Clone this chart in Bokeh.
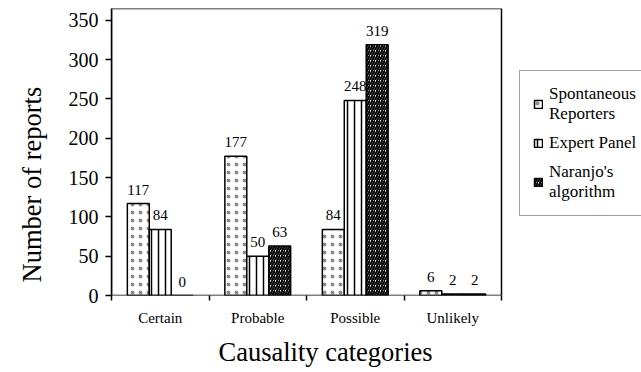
from bokeh.plotting import figure
from bokeh.models import (Range1d, FixedTicker, Legend, LegendItem, ColumnDataSource,
                          BoxAnnotation, Title)
from bokeh.embed import file_html
from bokeh.resources import INLINE
import numpy as np

cats = ["Certain", "Probable", "Possible", "Unlikely"]
spontaneous = [117, 177, 84, 6]
expert = [84, 50, 248, 2]
naranjo = [0, 63, 319, 2]
series_names = ["Spontaneous\nReporters", "Expert Panel", "Naranjo's\nalgorithm"]
y_ticks = [0, 50, 100, 150, 200, 250, 300, 350]
x_title = "Causality categories"
y_title = "Number of reports"

FONT = "Liberation Serif"
Y_MAX = 365
# the plotting frame also holds the legend; categories use the left 390 of its 530 px
X_END = len(cats) * 530 / 390

p = figure(width=641, height=372, output_backend="svg", toolbar_location=None,
           x_range=Range1d(0, X_END), y_range=Range1d(0, Y_MAX),
           min_border_left=111, min_border_right=0, min_border_top=8, min_border_bottom=76)

p.xgrid.visible = False
p.ygrid.visible = False
p.outline_line_color = None
p.background_fill_color = "white"
p.border_fill_color = "white"

# box around the category area (top/right border of the chart area)
p.add_layout(BoxAnnotation(left=0, right=len(cats), bottom=0, top=Y_MAX,
                           fill_alpha=0, line_color="black", line_alpha=1, line_width=1.5))

centers = np.arange(len(cats)) + 0.5
bw = 0.225
offsets = [-bw, 0.0, bw]
styles = [
    dict(hatch_pattern="dot", hatch_scale=8, hatch_weight=1, hatch_alpha=0.45),
    dict(hatch_pattern="vertical_line", hatch_scale=7, hatch_weight=1.5),
    dict(hatch_pattern="right_diagonal_line", hatch_scale=5, hatch_weight=2),
]
renderers = []
for vals, off, st in zip([spontaneous, expert, naranjo], offsets, styles):
    src = ColumnDataSource(dict(x=centers + off, top=vals, lab=[str(v) for v in vals]))
    r = p.vbar(x="x", top="top", width=bw, source=src, fill_color="white",
               line_color="black", line_width=1.5, hatch_color="black", **st)
    renderers.append(r)
    p.text(x="x", y="top", text="lab", source=src, text_align="center",
           text_baseline="alphabetic", y_offset=-14, text_font=FONT,
           text_font_size="15px", text_color="black")

# axes
p.xaxis.ticker = FixedTicker(ticks=list(centers), minor_ticks=list(range(len(cats) + 1)))
p.xaxis.major_label_overrides = {float(c): n for c, n in zip(centers, cats)}
p.xaxis.axis_line_color = None
p.xaxis.major_tick_out = 0
p.xaxis.major_tick_in = 0
p.xaxis.minor_tick_out = 5
p.xaxis.minor_tick_in = 0
p.xaxis.minor_tick_line_color = "black"
p.xaxis.minor_tick_line_width = 1.5
p.xaxis.major_label_standoff = 9
p.xaxis.major_label_text_font = FONT
p.xaxis.major_label_text_font_size = "15px"

p.yaxis.ticker = FixedTicker(ticks=y_ticks, minor_ticks=[])
p.yaxis.axis_line_color = "black"
p.yaxis.axis_line_width = 1.5
p.yaxis.major_tick_out = 6
p.yaxis.major_tick_in = 0
p.yaxis.major_label_standoff = 7
p.yaxis.major_label_text_font = FONT
p.yaxis.major_label_text_font_size = "20px"

for ax in (p.xaxis, p.yaxis):
    ax.major_tick_line_color = "black"
    ax.major_tick_line_width = 1.5
    ax.major_label_text_color = "black"

p.add_layout(Title(text=x_title, align="left", offset=107, standoff=12,
                   text_font=FONT, text_font_size="26.5px", text_font_style="normal",
                   text_color="black"), "below")
p.add_layout(Title(text=y_title, align="left", offset=13, standoff=33, vertical_align="top",
                   text_font=FONT, text_font_size="26.5px", text_font_style="normal",
                   text_color="black"), "left")

legend = Legend(items=[LegendItem(label=n, renderers=[r]) for n, r in zip(series_names, renderers)],
                location=(408, 79), label_text_font=FONT, label_text_font_size="17px",
                label_text_color="black",
                glyph_width=10, glyph_height=10, padding=13, spacing=9, label_standoff=6,
                border_line_color="#444444", border_line_width=1, background_fill_color="white",
                background_fill_alpha=1.0, margin=0)
p.add_layout(legend, "center")

open("out.html", "w").write(file_html(p, INLINE))
